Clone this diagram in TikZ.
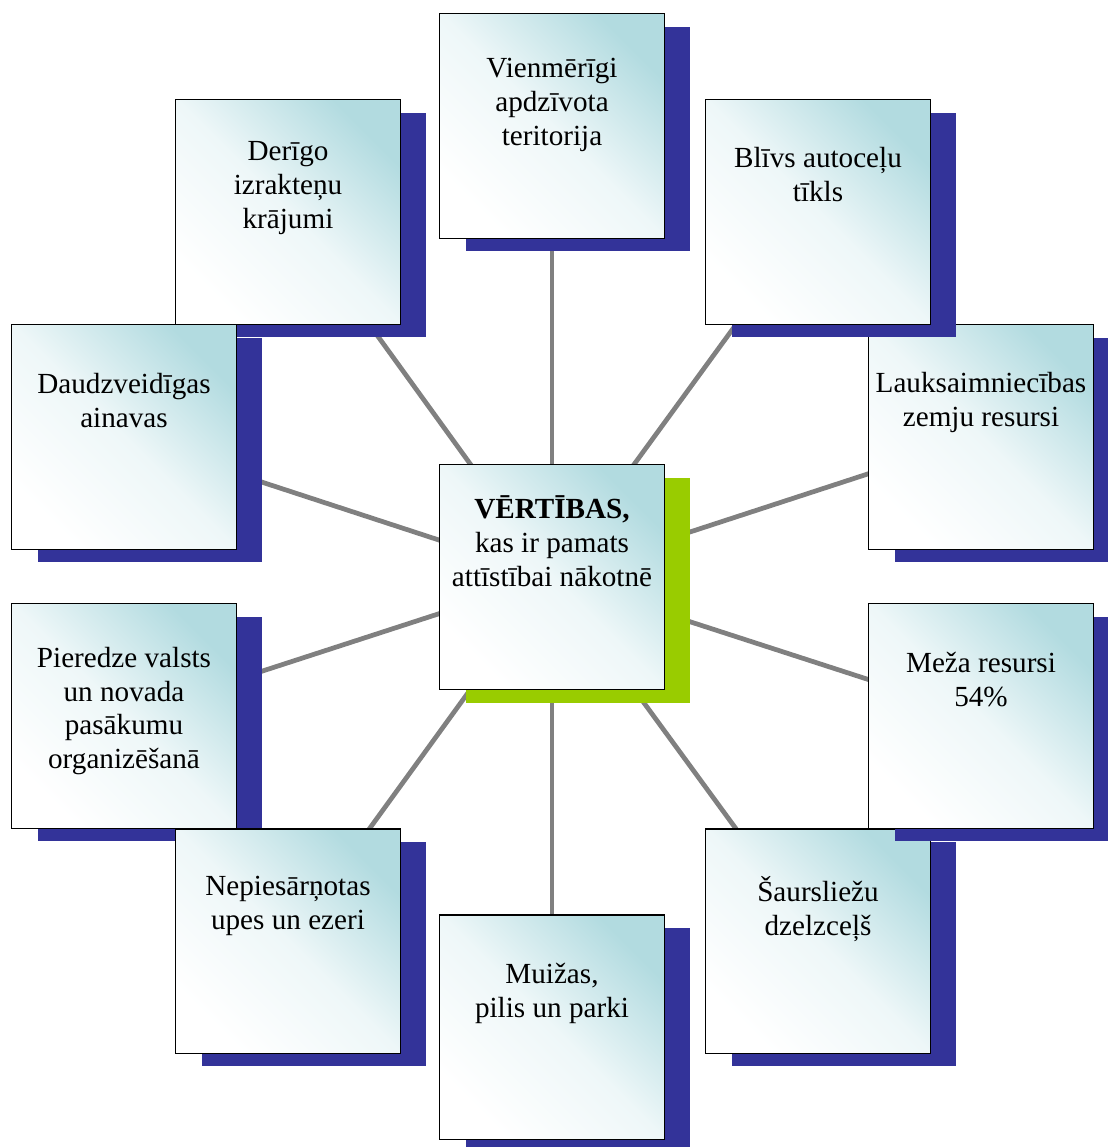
\documentclass[tikz,border=0pt]{standalone}
\usepackage{fontspec}
\setmainfont{Liberation Serif}
\usetikzlibrary{positioning,shadows,backgrounds}
\definecolor{boxcyan}{RGB}{178,219,224}
\definecolor{shadownavy}{RGB}{51,51,153}
\definecolor{shadowgreen}{RGB}{153,204,0}
\definecolor{spokegray}{RGB}{128,128,128}
\tikzset{
  boxbase/.style={draw=black,line width=1.1pt,minimum size=4.5cm,inner sep=0pt,
    shading=axis,top color=boxcyan,bottom color=white,middle color=boxcyan!22,
    shading angle=-45},
  valbox/.style={boxbase,
    general shadow={fill=shadownavy,shadow xshift=0.52cm,shadow yshift=-0.26cm}},
  hubbox/.style={boxbase,
    general shadow={fill=shadowgreen,shadow xshift=0.52cm,shadow yshift=-0.27cm}},
  valtext/.style={align=center,inner sep=0pt,
    font=\fontsize{16.6}{19.3}\selectfont,
    execute at begin node={\rule{0pt}{13.5pt}}},
  spoke/.style={draw=spokegray,line width=2.7pt}
}
\begin{document}
\begin{tikzpicture}[x=0.02cm,y=-0.02cm]
  \useasboundingbox (0,0) rectangle (1107,1147);

  % boxes, counter-clockwise from the top
  \node[valbox] (vien) at (552,126) {};
  \node[valtext,below=0.91cm of vien.north] (vien-t) {Vienmērīgi\\apdzīvota\\teritorija};
  \node[valbox] (deri) at (288,212) {};
  \node[valtext,below=0.85cm of deri.north] (deri-t) {Derīgo\\izrakteņu\\krājumi};
  \node[valbox] (daud) at (124,437) {};
  \node[valtext,below=0.98cm of daud.north] (daud-t) {Daudzveidīgas\\ainavas};
  \node[valbox] (pier) at (124,716) {};
  \node[valtext,below=0.88cm of pier.north] (pier-t) {Pieredze valsts\\un novada\\pasākumu\\organizēšanā};
  \node[valbox] (nepi) at (288,941) {};
  \node[valtext,below=0.97cm of nepi.north] (nepi-t) {Nepiesārņotas\\upes un ezeri};
  \node[valbox] (muiz) at (552,1027) {};
  \node[valtext,below=0.98cm of muiz.north] (muiz-t) {Muižas,\\pilis un parki};
  \node[valbox] (saur) at (818,941) {};
  \node[valtext,below=0.97cm of saur.north] (saur-t) {Šaursliežu\\dzelzceļš};
  \node[valbox] (meza) at (981,716) {};
  \node[valtext,below=0.99cm of meza.north] (meza-t) {Meža resursi\\54\%};
  \node[valbox] (lauk) at (981,437) {};
  \node[valtext,below=0.97cm of lauk.north] (lauk-t) {Lauksaimniecības\\zemju resursi};
  \node[valbox] (bliv) at (818,212) {};
  \node[valtext,below=0.97cm of bliv.north] (bliv-t) {Blīvs autoceļu\\tīkls};

  \node[hubbox] (hub) at (552,577) {};
  \node[valtext,below=0.63cm of hub.north] (hub-t) {\textbf{VĒRTĪBAS,}\\kas ir pamats\\attīstībai nākotnē};

  % spokes go behind boxes and shadows
  \begin{scope}[on background layer]
    \foreach \b in {vien,deri,daud,pier,nepi,muiz,saur,meza,lauk,bliv}
      \draw[spoke] (hub.center) -- (\b.center);
  \end{scope}
\end{tikzpicture}
\end{document}
